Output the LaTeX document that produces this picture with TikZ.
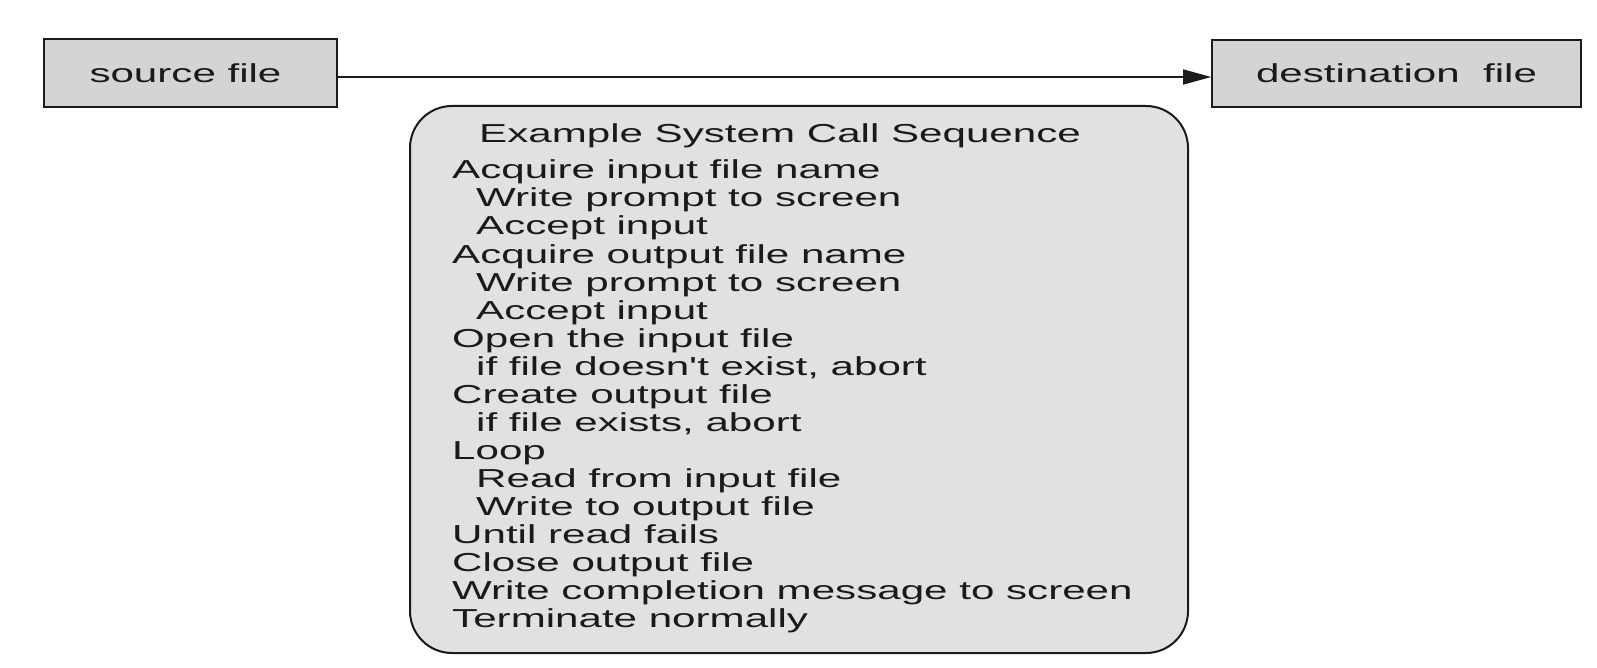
\documentclass[tikz,border=0pt]{standalone}
\usepackage{fontspec}
\usetikzlibrary{arrows.meta}
\newfontfamily\diagfont[FakeStretch=1.62]{Liberation Sans}
\definecolor{boxgray}{HTML}{D4D4D4}
\definecolor{panelgray}{HTML}{E1E1E1}
\definecolor{inkcol}{HTML}{1A1A1A}
\tikzset{
  filebox/.style={draw=inkcol, line width=1.6pt, fill=boxgray, inner sep=0pt,
    font=\diagfont\fontsize{26}{28}\selectfont, text=inkcol},
  seqline/.style={anchor=base west, inner sep=0pt,
    font=\diagfont\fontsize{26}{28}\selectfont, text=inkcol},
  panel/.style={draw=inkcol, line width=2pt, fill=panelgray, rounded corners=42pt},
  flow/.style={draw=inkcol, line width=1.4pt, -{Triangle[length=28pt,width=15pt]}}
}
\begin{document}
\begin{tikzpicture}[x=1pt,y=-1pt]
\useasboundingbox (0,0) rectangle (1597,668);
\node[filebox, minimum width=293pt, minimum height=68pt] (src) at (190.5,73) {source file\hspace*{10pt}};
\node[filebox, minimum width=369pt, minimum height=67pt] (dst) at (1396.5,73.5) {destination\ \ file};
\draw[flow] ([yshift=-4pt]src.east) -- ([yshift=-3.5pt]dst.west);
\path[panel] (410,106) rectangle (1188,653);
\node[seqline] (title) at (479,143) {Example System Call Sequence};
\node[seqline] (l1) at (452,179) {Acquire input file name};
\node[seqline] (l2) at (476,207) {Write prompt to screen};
\node[seqline] (l3) at (476,235) {Accept input};
\node[seqline] (l4) at (452,263) {Acquire output file name};
\node[seqline] (l5) at (476,291) {Write prompt to screen};
\node[seqline] (l6) at (476,319) {Accept input};
\node[seqline] (l7) at (452,347) {Open the input file};
\node[seqline] (l8) at (476,375) {if file doesn't exist, abort};
\node[seqline] (l9) at (452,403) {Create output file};
\node[seqline] (l10) at (476,431) {if file exists, abort};
\node[seqline] (l11) at (452,459) {Loop};
\node[seqline] (l12) at (476,487) {Read from input file};
\node[seqline] (l13) at (476,515) {Write to output file};
\node[seqline] (l14) at (452,543) {Until read fails};
\node[seqline] (l15) at (452,571) {Close output file};
\node[seqline] (l16) at (452,599) {Write completion message to screen};
\node[seqline] (l17) at (452,627) {Terminate normally};
\end{tikzpicture}
\end{document}
